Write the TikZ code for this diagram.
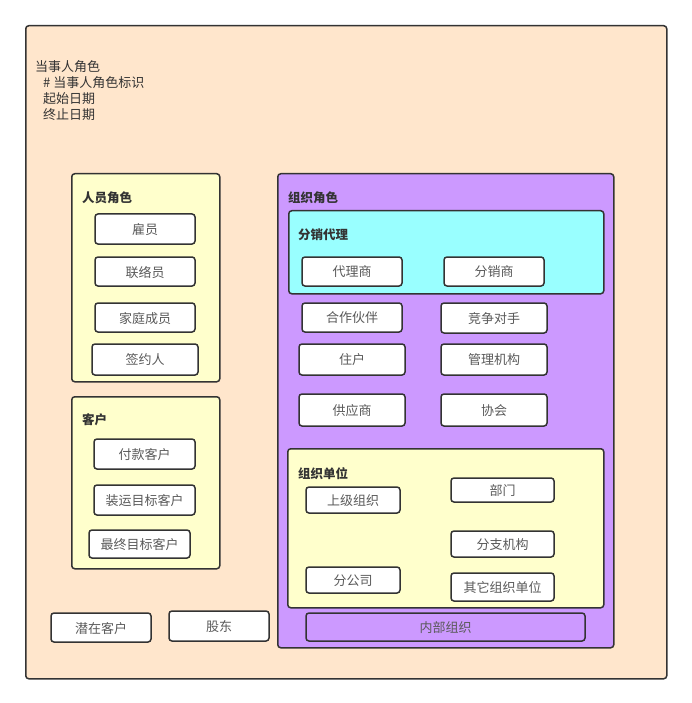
\documentclass[tikz,border=0pt]{standalone}
\usepackage{fontspec}
\setmainfont{Noto Sans CJK SC}
\usepackage{xcolor}
\usetikzlibrary{positioning}

\definecolor{peach}{HTML}{FFE6CC}
\definecolor{paleyellow}{HTML}{FFFFCC}
\definecolor{lilac}{HTML}{CC99FF}
\definecolor{aqua}{HTML}{99FFFF}
\definecolor{edge}{HTML}{333333}
\definecolor{itemtext}{HTML}{5A5A5A}

\tikzset{
  group/.style={draw=edge, line width=1.5pt, rounded corners=3pt, anchor=north west, inner sep=0pt},
  item/.style={draw=edge, line width=1.5pt, rounded corners=3pt, fill=white, text=itemtext,
    font=\fontsize{13}{15}\selectfont, inner sep=0pt, text depth=-1pt, minimum width=100pt, minimum height=30pt},
  grouptitle/.style={anchor=west, inner sep=0pt, text=edge, font=\fontsize{12.5}{15}\selectfont\bfseries}
}

\begin{document}
\begin{tikzpicture}[x=1pt, y=-1pt]
\useasboundingbox (0,0) rectangle (691,703);

% 当事人角色
\node[group, fill=peach, minimum width=641pt, minimum height=653pt] (party) at (25,25) {};
\node[anchor=north west, inner sep=0pt, align=left, text=edge, font=\fontsize{13}{16}\selectfont]
  (attrs) at (35,60) {当事人角色\\\hspace{8pt}\# 当事人角色标识\\\hspace{8pt}起始日期\\\hspace{8pt}终止日期};

% 人员角色
\node[group, fill=paleyellow, minimum width=148pt, minimum height=208pt] (person) at (71,173) {};
\node[grouptitle] (personT) at (82,198) {人员角色};
\node[item] (employee) at (145,229) {雇员};
\node[item, minimum height=29pt] (contact) at (145,271.5) {联络员};
\node[item, minimum height=29pt] (family) at (145,317.5) {家庭成员};
\node[item, minimum width=106pt, minimum height=31pt] (signer) at (145,359.5) {签约人};

% 客户
\node[group, fill=paleyellow, minimum width=148pt, minimum height=172pt] (customer) at (71,396) {};
\node[grouptitle] (customerT) at (82,420) {客户};
\node[item, minimum width=101pt] (payer) at (144.5,454) {付款客户};
\node[item, minimum width=101pt] (shipto) at (144.5,500) {装运目标客户};
\node[item, minimum width=101pt, minimum height=28pt] (enduser) at (139.5,544) {最终目标客户};

\node[item, minimum height=29pt] (prospect) at (101,627.5) {潜在客户};
\node[item] (holder) at (219,626) {股东};

% 组织角色
\node[group, fill=lilac, minimum width=336pt, minimum height=474pt] (org) at (277,173) {};
\node[grouptitle] (orgT) at (288,198) {组织角色};

\node[group, fill=aqua, minimum width=315pt, minimum height=83pt] (channel) at (288,210) {};
\node[grouptitle] (channelT) at (298,235) {分销代理};
\node[item, minimum height=29pt] (agent) at (352,271.5) {代理商};
\node[item, minimum height=29pt] (dealer) at (494,271.5) {分销商};

\node[item, minimum height=29pt] (partner) at (352,317.5) {合作伙伴};
\node[item, minimum width=106pt] (rival) at (494,318) {竞争对手};
\node[item, minimum width=106pt, minimum height=31pt] (household) at (352,359.5) {住户};
\node[item, minimum width=106pt, minimum height=31pt] (regulator) at (494,359.5) {管理机构};
\node[item, minimum width=106pt, minimum height=32pt] (supplier) at (352,410) {供应商};
\node[item, minimum width=106pt, minimum height=32pt] (assoc) at (494,410) {协会};

% 组织单位
\node[group, fill=paleyellow, minimum width=316pt, minimum height=159pt] (unit) at (287,448) {};
\node[grouptitle] (unitT) at (298,474) {组织单位};
\node[item, minimum width=94pt, minimum height=26pt] (parentorg) at (353,500) {上级组织};
\node[item, minimum width=103pt, minimum height=24pt] (dept) at (502.5,490) {部门};
\node[item, minimum width=103pt, minimum height=26pt] (branch) at (502.5,544) {分支机构};
\node[item, minimum width=94pt, minimum height=26pt] (subsid) at (353,580) {分公司};
\node[item, minimum width=103pt, minimum height=28pt] (otherunit) at (502.5,587) {其它组织单位};

\node[item, fill=lilac, minimum width=279pt, minimum height=28pt] (internal) at (445.5,627) {内部组织};
\end{tikzpicture}
\end{document}
